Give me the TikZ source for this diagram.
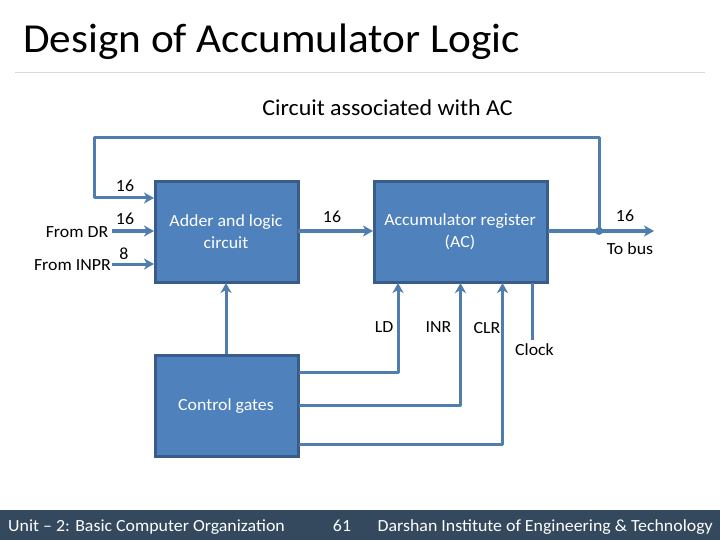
\documentclass[tikz,border=0pt]{standalone}
\usepackage{fontspec}
\setmainfont[FakeStretch=1.05]{Carlito}
\usetikzlibrary{arrows.meta}
\definecolor{boxfill}{HTML}{4F81BD}
\definecolor{boxline}{HTML}{385D8A}
\definecolor{wire}{HTML}{4F7DAE}
\definecolor{footbar}{HTML}{34495E}
\tikzset{
  block/.style={draw=boxline,line width=3pt,fill=boxfill,anchor=north west,inner sep=0pt,outer sep=0pt},
  blocktext/.style={text=white,font=\fontsize{17}{22}\selectfont,align=center,inner sep=0pt},
  wirepath/.style={draw=wire,line width=3pt,line join=round},
  arrowwire/.style={wirepath,-{Stealth[length=10pt,width=11pt,inset=3pt]}},
  lab/.style={text=black,font=\fontsize{17}{18}\selectfont,inner sep=0pt},
  foot/.style={text=white,font=\fontsize{17}{18}\selectfont,inner sep=0pt}
}
\begin{document}
\begin{tikzpicture}[x=1pt,y=-1pt]
\useasboundingbox (0,0) rectangle (720,540);
\fill[white] (0,0) rectangle (720,540);
\node[text=black,font=\fontsize{41.2}{44}\selectfont,inner sep=0pt,anchor=base west] (title) at (23,53) {Design of Accumulator Logic};
\coordinate (ruleL) at (15,72.5);
\coordinate (ruleR) at (705,72.5);
\draw[black!15,line width=0.8pt] (ruleL) -- (ruleR);
\node[text=black,font=\fontsize{22.8}{24}\selectfont,inner sep=0pt] (sub) at (387.5,108) {Circuit associated with AC};
% blocks
\node[block,minimum width=143pt,minimum height=100.5pt] (adder) at (155,181.5) {};
\node[block,minimum width=173pt,minimum height=100.5pt] (ac) at (374,181.5) {};
\node[block,minimum width=143pt,minimum height=101pt] (ctrl) at (155,355) {};
\node[blocktext] (addert) at (226,232) {Adder and logic\\circuit};
\node[blocktext] (act) at (460,232) {Accumulator register\\(AC)};
\node[blocktext] (ctrlt) at (226,406) {Control gates};
% free ends
\coordinate (dr) at (112,231);
\coordinate (inpr) at (112,264);
\coordinate (fbA) at (599,231);
\coordinate (fbB) at (599,138);
\coordinate (fbC) at (94,138);
\coordinate (fbD) at (94,198);
\coordinate (fbE) at (154,198);
\coordinate (drE) at (154,231);
\coordinate (inE) at (154,264);
\coordinate (bus) at (654,231);
\coordinate (acL) at (373,231);
\coordinate (adR) at (298,231);
\coordinate (acR) at (548,231);
\coordinate (adB) at (226,283);
\coordinate (ctT) at (226,354);
\coordinate (ldT) at (398,283);
\coordinate (inrT) at (460.5,283);
\coordinate (clrT) at (502.5,283);
\coordinate (clkT) at (532,283);
\coordinate (clkB) at (532,340);
\coordinate (ctR) at (299,372);
% connectors
\draw[arrowwire] (fbA) -- (fbB) -- (fbC) -- (fbD) -- (fbE);
\draw[arrowwire] (dr) -- (drE);
\draw[arrowwire] (inpr) -- (inE);
\draw[arrowwire] (adR) -- (acL);
\draw[arrowwire] (acR) -- (bus);
\fill[wire] (fbA) circle (4pt);
\draw[arrowwire] (ctT) -- (adB);
\draw[arrowwire] (ctR) -- (398,372) -- (ldT);
\draw[arrowwire] (299,405) -- (460.5,405) -- (inrT);
\draw[arrowwire] (299,444) -- (502.5,444) -- (clrT);
\draw[wirepath] (clkT) -- (clkB);
% labels
\node[lab] (l1) at (125,186) {16};
\node[lab] (l2) at (125,219) {16};
\node[lab] (l3) at (124,254) {8};
\node[lab,anchor=east] (l4) at (108.5,232) {From DR};
\node[lab,anchor=east] (l5) at (111,265) {From INPR};
\node[lab] (l6) at (332,217) {16};
\node[lab] (l7) at (625,216) {16};
\node[lab] (l8) at (630,249) {To bus};
\node[lab] (l9) at (384,327) {LD};
\node[lab] (l10) at (438.5,327) {INR};
\node[lab] (l11) at (487,328) {CLR};
\node[lab] (l12) at (534.5,350) {Clock};
% footer
\fill[footbar] (0,510) rectangle (720,540);
\node[foot,anchor=base west] (f1) at (8,531) {Unit – 2: Basic Computer Organization};
\node[foot,anchor=base] (f2) at (342,531) {61};
\node[foot,anchor=base east] (f3) at (713,531) {Darshan Institute of Engineering \& Technology};
\end{tikzpicture}
\end{document}
